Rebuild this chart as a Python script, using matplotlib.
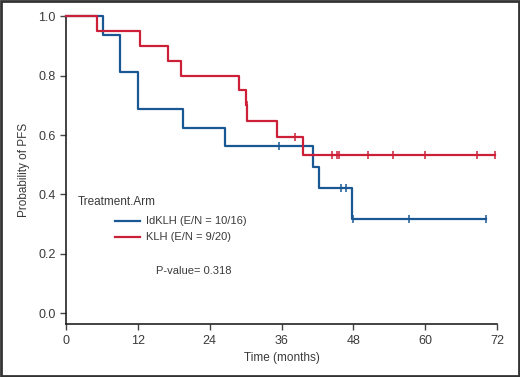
import numpy as np
import matplotlib
matplotlib.use("Agg")
import matplotlib.pyplot as plt
from matplotlib.patches import Rectangle

plt.rcParams["font.family"] = ["Liberation Sans", "DejaVu Sans"]

# step curves: (time in months, survival after that time)
idklh_times = [0, 6.1, 9.0, 12.0, 19.6, 26.5, 41.2, 42.2, 47.8, 70.1]
idklh_surv = [1.0, 0.9375, 0.8125, 0.6875, 0.625, 0.5625, 0.492, 0.422, 0.316, 0.316]
idklh_cens = [35.6, 45.9, 46.7, 48.0, 57.3, 70.1]

klh_times = [0, 5.2, 12.35, 17.1, 19.2, 28.9, 30.0, 30.3, 35.3, 39.5, 71.6]
klh_surv = [1.0, 0.95, 0.90, 0.85, 0.80, 0.75, 0.70, 0.646, 0.592, 0.533, 0.533]
klh_cens = [30.15, 38.3, 44.5, 45.2, 45.6, 50.5, 54.6, 60.0, 68.7, 71.6]

labels = ["IdKLH (E/N = 10/16)", "KLH (E/N = 9/20)"]
colors = ["#1a5893", "#cc1f38"]
x_ticks = [0, 12, 24, 36, 48, 60, 72]
y_ticks = [0.0, 0.2, 0.4, 0.6, 0.8, 1.0]
p_value = 0.318
text_col = "#3a3a3a"


def level_at(times, surv, t):
    i = np.searchsorted(times, t, side="right") - 1
    return np.asarray(surv)[i]


fig = plt.figure(figsize=(5.2, 3.77), dpi=100)
ax = fig.add_axes([0.127, 0.14, 0.829, 0.817])

series = [
    (idklh_times, idklh_surv, idklh_cens),
    (klh_times, klh_surv, klh_cens),
]
for (t, s, c), col in zip(series, colors):
    ax.plot(t, s, drawstyle="steps-post", color=col, lw=1.6,
            clip_on=False, zorder=3)
    ax.plot(c, level_at(t, s, c), linestyle="none", marker="|", ms=6,
            mew=1.1, color=col, clip_on=False, zorder=3)

ax.set_xlim(0, 72)
ax.set_ylim(-0.037, 1.0)
ax.set_xticks(x_ticks)
ax.set_yticks(y_ticks)
ax.set_yticklabels([f"{v:.1f}" for v in y_ticks])
for side in ["top", "right"]:
    ax.spines[side].set_visible(False)
for side in ["left", "bottom"]:
    ax.spines[side].set_linewidth(1.2)
    ax.spines[side].set_color("#222222")
ax.tick_params(direction="out", length=4, width=1, color="#444444",
               labelsize=9, labelcolor=text_col)
ax.set_xlabel("Time (months)", fontsize=8.5, color=text_col, labelpad=4)
ax.set_ylabel("Probability of PFS", fontsize=8.5, color=text_col, labelpad=6)

# legend block: title, then indented line samples with labels
tr = ax.transAxes
ax.text(0.028, 0.396, "Treatment.Arm", transform=tr, fontsize=8.5,
        color=text_col, va="center")
for row_y, lab, col in zip([0.335, 0.283], labels, colors):
    ax.plot([0.114, 0.172], [row_y, row_y], transform=tr, color=col, lw=1.6)
    ax.text(0.185, row_y, lab, transform=tr, fontsize=8, color=text_col,
            va="center")

ax.text(15.1, 0.143, f"P-value= {p_value}", fontsize=8, color=text_col,
        va="center")

fig.patches.append(Rectangle((0.002, 0.003), 0.996, 0.994, transform=fig.transFigure,
                             fill=False, edgecolor="#333333", lw=2))

fig.savefig("out.png", dpi=100)
